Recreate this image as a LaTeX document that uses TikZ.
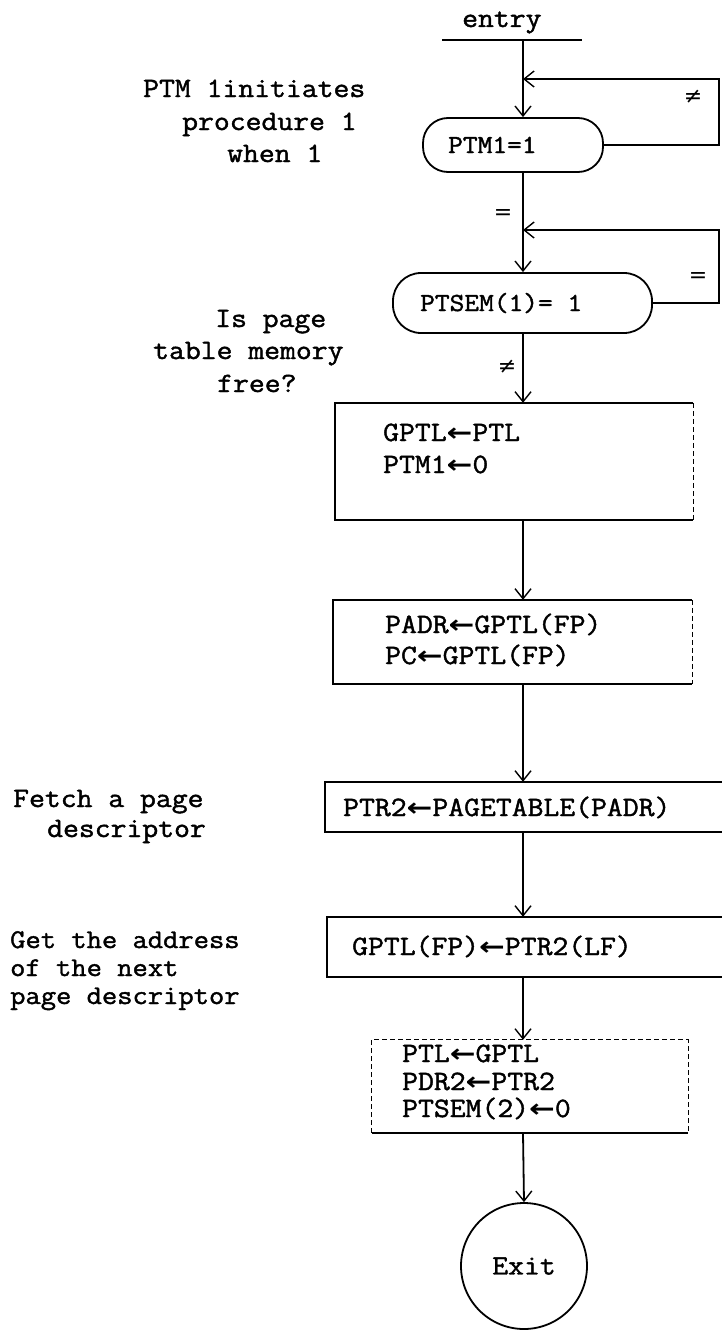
\documentclass[tikz,border=0pt]{standalone}
\usepackage{fontspec}
\usepackage{graphicx}
\usetikzlibrary{arrows.meta}
\newfontfamily\tw{Latin Modern Mono}[FakeStretch=1.1, FakeBold=1.5]
\newfontfamily\dv{DejaVu Sans}
% assignment arrow used inside the boxes
\newcommand{\asg}{{\dv\bfseries\scalebox{1.1}[0.9]{←}}}
\begin{document}
\begin{tikzpicture}[x=1pt,y=-1pt,
  txt/.style={font=\tw\fontsize{28}{32}\selectfont, inner sep=0pt},
  ctxt/.style={font=\tw\fontsize{27}{30}\selectfont, inner sep=0pt},
  dtxt/.style={font=\tw\fontsize{26}{30}\selectfont, inner sep=0pt},
  sym/.style={font=\dv\fontsize{22}{26}\selectfont, inner sep=0pt},
  ln/.style={line width=1.8pt},
  thick line/.style={line width=2.4pt},
  faint/.style={line width=1.2pt, dash pattern=on 5pt off 3pt},
  arr/.style={ln, -{Straight Barb[length=10pt,width=16pt,line width=1.4pt]}},
  dec/.style={draw, line width=1.8pt, inner sep=0pt},
  box/.style={inner sep=0pt}]
\useasboundingbox (0,0) rectangle (721,1330);

% ---- entry ----
\node[txt, anchor=base west] (entry) at (462,27) {entry};
\coordinate (e0) at (442,40);
\coordinate (e1) at (582,40);
\coordinate (e) at (523,40);
\draw[thick line] (e0) -- (e1);

% right-hand return column and the two merge points on the main line
\coordinate (rx) at (719,0);
\coordinate (j1) at (523,79);
\coordinate (j2) at (523,230);

% ---- decision: PTM1 = 1 ----
\node[dec, rounded corners=25pt, minimum width=180pt, minimum height=54pt] (d1) at (513,145) {};
\node[dtxt, anchor=base west] (d1t) at (448,153) {PTM1=1};
\draw[arr] (e) -- (e |- d1.north);
\draw[arr] (d1.east) -- (d1.east -| rx) |- (j1);
\node[sym] (ne1) at (693,97) {≠};

% ---- decision: PTSEM(1) = 1 ----
\node[dec, rounded corners=28pt, minimum width=259pt, minimum height=60pt] (d2) at (522.5,303) {};
\node[dtxt, anchor=base west] (d2t) at (420,311) {PTSEM(1)= 1};
\draw[arr] (e |- d1.south) -- (e |- d2.north);
\node[sym] (eq1) at (503,215) {=};
\draw[arr] (d2.east) -- (d2.east -| rx) |- (j2);
\node[sym] (eq2) at (698,278) {=};
\node[sym] (ne2) at (507,367) {≠};

% ---- box 1 ----
\node[box, minimum width=358pt, minimum height=117pt] (b1) at (514,461.5) {};
\draw[ln] (b1.north east) -- (b1.north west) -- (b1.south west) -- (b1.south east);
\draw[faint] (b1.north east) -- (b1.south east);
\node[txt, anchor=base west] (b1a) at (383,441) {GPTL\asg PTL};
\node[txt, anchor=base west] (b1b) at (383,473) {PTM1\asg 0};
\draw[arr] (e |- d2.south) -- (e |- b1.north);

% ---- box 2 ----
\node[box, minimum width=359pt, minimum height=84pt] (b2) at (512.5,642) {};
\draw[ln] (b2.north east) -- (b2.north west) -- (b2.south west) -- (b2.south east);
\draw[faint] (b2.north east) -- (b2.south east);
\node[txt, anchor=base west] (b2a) at (385,633) {PADR\asg GPTL(FP)};
\node[txt, anchor=base west] (b2b) at (385,664) {PC\asg GPTL(FP)};
\draw[arr] (e |- b1.south) -- (e |- b2.north);

% ---- box 3 (runs past the right margin) ----
\node[box, minimum width=400pt, minimum height=50pt] (b3) at (525,807) {};
\draw[ln] (b3.north east) -- (b3.north west) -- (b3.south west) -- (b3.south east);
\node[txt, anchor=base west] (b3a) at (343,816) {PTR2\asg PAGETABLE(PADR)};
\draw[arr] (e |- b2.south) -- (e |- b3.north);

% ---- box 4 (runs past the right margin) ----
\node[box, minimum width=400pt, minimum height=60pt] (b4) at (527,947) {};
\draw[ln] (b4.north east) -- (b4.north west) -- (b4.south west) -- (b4.south east);
\node[txt, anchor=base west] (b4a) at (352,955) {GPTL(FP)\asg PTR2(LF)};
\draw[arr] (e |- b3.south) -- (e |- b4.north);

% ---- box 5 ----
\node[box, minimum width=316pt, minimum height=93pt] (b5) at (530,1086.5) {};
\draw[faint] (b5.south west) -- (b5.north west) -- (b5.north east) -- (b5.south east);
\draw[thick line] (b5.south west) -- (b5.south east);
\node[txt, anchor=base west] (b5a) at (402,1062) {PTL\asg GPTL};
\node[txt, anchor=base west] (b5b) at (402,1090) {PDR2\asg PTR2};
\node[txt, anchor=base west] (b5c) at (402,1117) {PTSEM(2)\asg 0};
\draw[arr] (e |- b4.south) -- (e |- b5.north);

% ---- exit ----
\node[draw, circle, ln, minimum size=126pt, inner sep=0pt, txt] (exit) at (524,1266) {Exit};
\draw[arr] (e |- b5.south) -- (exit.north);

% ---- comments in the left margin ----
\node[txt, anchor=base west] (c1a) at (143,97) {PTM 1initiates};
\node[txt, anchor=base west] (c1b) at (182,130) {procedure 1};
\node[txt, anchor=base west] (c1c) at (227,162) {when 1};

\node[txt, anchor=base west] (c2a) at (215,327) {Is page};
\node[txt, anchor=base west] (c2b) at (153,359) {table memory};
\node[txt, anchor=base west] (c2c) at (217,392) {free?};

\node[txt, anchor=base west] (c3a) at (13,807) {Fetch a page};
\node[txt, anchor=base west] (c3b) at (47,837) {descriptor};

\node[ctxt, anchor=base west] (c4a) at (10,948) {Get the address};
\node[ctxt, anchor=base west] (c4b) at (10,976) {of the next};
\node[ctxt, anchor=base west] (c4c) at (10,1004) {page descriptor};
\end{tikzpicture}
\end{document}
